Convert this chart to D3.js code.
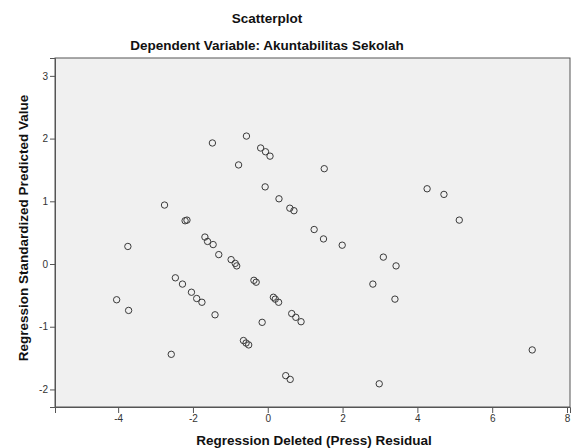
<!DOCTYPE html>
<html>
<head>
<meta charset="utf-8">
<script src="https://cdn.jsdelivr.net/npm/d3@7/dist/d3.min.js"></script>
<style>
  html, body { margin: 0; padding: 0; background: #ffffff; }
  svg { display: block; }
  text { font-family: "Liberation Sans", Arial, sans-serif; }
</style>
</head>
<body>
<svg id="chart" width="571" height="448"></svg>
<script>
// ---- Data ----
const chartTitle = "Scatterplot";
const chartSubtitle = "Dependent Variable: Akuntabilitas Sekolah";
const xLabel = "Regression Deleted (Press) Residual";
const yLabel = "Regression Standardized Predicted Value";
const xTicks = [-4, -2, 0, 2, 4, 6, 8];
const yTicks = [-2, -1, 0, 1, 2, 3];

const residual = [
  -1.48, -0.78, -2.76, -2.21, -2.16, -1.68, -1.61, -1.46, -1.31, -0.98,
  -0.87, -0.83, -3.74, -2.47, -2.28, -2.04, -1.90, -1.76, -1.41, -4.04,
  -3.72, -2.58, -0.57, -0.19, -0.06, 0.06, 1.51, -0.07, 0.30, 0.59,
  0.70, 1.24, 1.49, 1.99, -0.37, -0.31, 0.15, 0.20, 0.29, 0.64,
  0.75, 0.89, -0.15, -0.65, -0.58, -0.51, 0.48, 0.60, 4.26, 4.71,
  5.12, 3.09, 3.43, 2.81, 3.40, 7.07, 2.98
];
const predicted = [
  1.93, 1.58, 0.94, 0.69, 0.70, 0.43, 0.36, 0.31, 0.15, 0.07,
  0.01, -0.03, 0.28, -0.22, -0.32, -0.45, -0.55, -0.61, -0.81, -0.57,
  -0.74, -1.44, 2.04, 1.85, 1.79, 1.72, 1.52, 1.23, 1.04, 0.89,
  0.85, 0.55, 0.40, 0.30, -0.26, -0.29, -0.53, -0.56, -0.61, -0.79,
  -0.85, -0.92, -0.93, -1.22, -1.26, -1.29, -1.78, -1.84, 1.20, 1.11,
  0.70, 0.11, -0.03, -0.32, -0.56, -1.37, -1.91
];

// ---- Layout ----
const plot = { left: 55, top: 58, right: 570, bottom: 407 };
const svg = d3.select("#chart");

const x = d3.scaleLinear()
  .domain([-5.688, 8.08])
  .range([plot.left, plot.right]);
const y = d3.scaleLinear()
  .domain([-2.28, 3.285])
  .range([plot.bottom, plot.top]);

// Titles
svg.append("text")
  .attr("x", 267).attr("y", 23)
  .attr("text-anchor", "middle")
  .attr("font-size", 13.5).attr("font-weight", "bold").attr("fill", "#111")
  .text(chartTitle);
svg.append("text")
  .attr("x", 267).attr("y", 50)
  .attr("text-anchor", "middle")
  .attr("font-size", 13.5).attr("font-weight", "bold").attr("fill", "#111")
  .text(chartSubtitle);

// Plot background
svg.append("rect")
  .attr("x", plot.left).attr("y", plot.top)
  .attr("width", plot.right - plot.left).attr("height", plot.bottom - plot.top)
  .attr("fill", "#f0f0f0")
  .attr("stroke", "#555").attr("stroke-width", 1);

// Axes
const xAxis = d3.axisBottom(x).tickValues(xTicks).tickSize(6).tickPadding(2)
  .tickFormat(d3.format("d"));
const gx = svg.append("g")
  .attr("transform", `translate(0,${plot.bottom})`)
  .call(xAxis);
gx.select(".domain").attr("stroke", "#555");
gx.selectAll(".tick line").attr("stroke", "#555");
gx.selectAll(".tick text").attr("font-size", 10).attr("fill", "#333")
  .attr("font-family", "'Liberation Sans', Arial, sans-serif")
  .text(d => d < 0 ? "-" + Math.abs(d) : String(d));

const yAxis = d3.axisLeft(y).tickValues(yTicks).tickSize(5).tickPadding(2)
  .tickFormat(d3.format("d"));
const gy = svg.append("g")
  .attr("transform", `translate(${plot.left},0)`)
  .call(yAxis);
gy.select(".domain").attr("stroke", "#555");
gy.selectAll(".tick line").attr("stroke", "#555");
gy.selectAll(".tick text").attr("font-size", 10).attr("fill", "#333")
  .attr("font-family", "'Liberation Sans', Arial, sans-serif")
  .text(d => d < 0 ? "-" + Math.abs(d) : String(d));

// Axis titles
svg.append("text")
  .attr("x", 314).attr("y", 445)
  .attr("text-anchor", "middle")
  .attr("font-size", 13.5).attr("font-weight", "bold").attr("fill", "#111")
  .text(xLabel);
svg.append("text")
  .attr("transform", `translate(28,228) rotate(-90)`)
  .attr("text-anchor", "middle")
  .attr("font-size", 13.5).attr("font-weight", "bold").attr("fill", "#111")
  .text(yLabel);

// Points
const pts = residual.map((r, i) => ({ r, p: predicted[i] }));
svg.append("g").selectAll("circle")
  .data(pts)
  .join("circle")
  .attr("cx", d => x(d.r))
  .attr("cy", d => y(d.p))
  .attr("r", 3.2)
  .attr("fill", "none")
  .attr("stroke", "#3a3a3a")
  .attr("stroke-width", 1);
</script>
</body>
</html>
